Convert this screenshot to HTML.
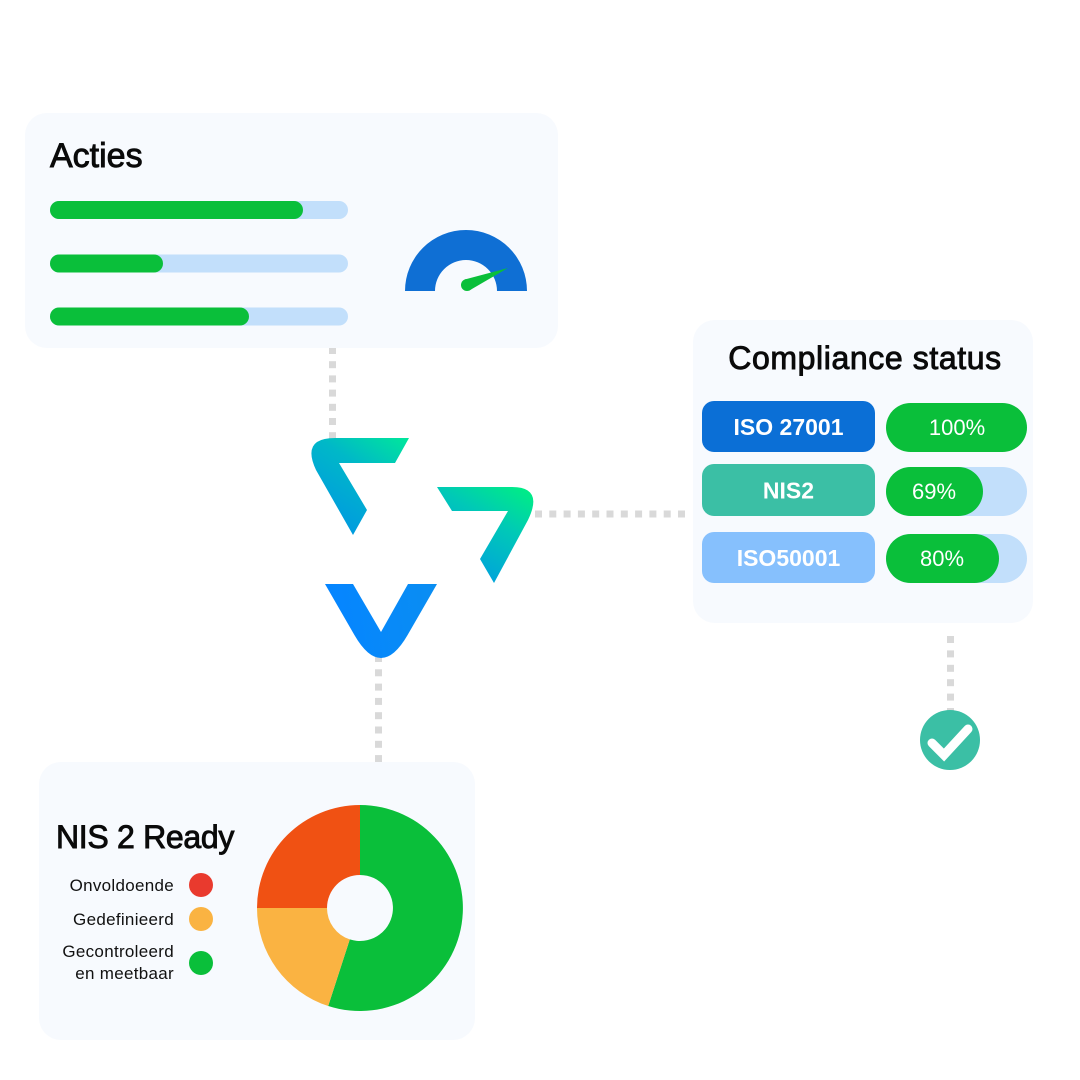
<!DOCTYPE html>
<html>
<head>
<meta charset="utf-8">
<style>
html,body{margin:0;padding:0;background:#ffffff;}
svg{display:block;}
text{font-family:"Liberation Sans",sans-serif;}
</style>
</head>
<body>
<svg width="1080" height="1080" viewBox="0 0 1080 1080" xmlns="http://www.w3.org/2000/svg">
<defs>
  <linearGradient id="gTL" gradientUnits="userSpaceOnUse" x1="340" y1="530" x2="405" y2="435">
    <stop offset="0" stop-color="#009ae0"/>
    <stop offset="0.55" stop-color="#00b8c8"/>
    <stop offset="1" stop-color="#00e89a"/>
  </linearGradient>
  <linearGradient id="gR" gradientUnits="userSpaceOnUse" x1="485" y1="580" x2="540" y2="487">
    <stop offset="0" stop-color="#00a4da"/>
    <stop offset="0.5" stop-color="#00c8b8"/>
    <stop offset="1" stop-color="#00f47c"/>
  </linearGradient>
  <linearGradient id="gV" gradientUnits="userSpaceOnUse" x1="330" y1="600" x2="437" y2="584">
    <stop offset="0" stop-color="#0585ff"/>
    <stop offset="1" stop-color="#0a8ef2"/>
  </linearGradient>
</defs>

<rect x="0" y="0" width="1080" height="1080" fill="#ffffff"/>

<!-- dotted connectors -->
<g fill="#d9d9d9">
  <rect x="329" y="347" width="7" height="7"/>
  <rect x="329" y="361.2" width="7" height="7"/>
  <rect x="329" y="375.4" width="7" height="7"/>
  <rect x="329" y="389.6" width="7" height="7"/>
  <rect x="329" y="403.8" width="7" height="7"/>
  <rect x="329" y="418" width="7" height="7"/>
  <rect x="329" y="432.2" width="7" height="7"/>

  <rect x="535" y="510.5" width="7" height="7"/>
  <rect x="549.3" y="510.5" width="7" height="7"/>
  <rect x="563.6" y="510.5" width="7" height="7"/>
  <rect x="577.9" y="510.5" width="7" height="7"/>
  <rect x="592.2" y="510.5" width="7" height="7"/>
  <rect x="606.5" y="510.5" width="7" height="7"/>
  <rect x="620.8" y="510.5" width="7" height="7"/>
  <rect x="635.1" y="510.5" width="7" height="7"/>
  <rect x="649.4" y="510.5" width="7" height="7"/>
  <rect x="663.7" y="510.5" width="7" height="7"/>
  <rect x="678" y="510.5" width="7" height="7"/>

  <rect x="375" y="655" width="7" height="7"/>
  <rect x="375" y="669.3" width="7" height="7"/>
  <rect x="375" y="683.6" width="7" height="7"/>
  <rect x="375" y="697.9" width="7" height="7"/>
  <rect x="375" y="712.2" width="7" height="7"/>
  <rect x="375" y="726.5" width="7" height="7"/>
  <rect x="375" y="740.8" width="7" height="7"/>
  <rect x="375" y="755.1" width="7" height="7"/>

  <rect x="947" y="636" width="7" height="7"/>
  <rect x="947" y="650.4" width="7" height="7"/>
  <rect x="947" y="664.8" width="7" height="7"/>
  <rect x="947" y="679.2" width="7" height="7"/>
  <rect x="947" y="693.6" width="7" height="7"/>
  <rect x="947" y="708" width="7" height="7"/>
</g>

<!-- Acties card -->
<rect x="25" y="113" width="533" height="235" rx="22" fill="#f7fafe"/>
<text x="50" y="167" font-size="34" fill="#0a0a0a" stroke="#0a0a0a" stroke-width="0.9">Acties</text>
<rect x="50" y="201" width="298" height="18" rx="9" fill="#c2dffb"/>
<rect x="50" y="201" width="253" height="18" rx="9" fill="#0abf3a"/>
<rect x="50" y="254.5" width="298" height="18" rx="9" fill="#c2dffb"/>
<rect x="50" y="254.5" width="113" height="18" rx="9" fill="#0abf3a"/>
<rect x="50" y="307.5" width="298" height="18" rx="9" fill="#c2dffb"/>
<rect x="50" y="307.5" width="199" height="18" rx="9" fill="#0abf3a"/>
<!-- gauge -->
<path d="M 405 291 A 61 61 0 0 1 527 291 L 497 291 A 31 31 0 0 0 435 291 Z" fill="#0f6fd4"/>
<polygon points="469.3,290.5 464.7,279.5 508,268" fill="#0abf3a"/>
<circle cx="467" cy="285" r="6" fill="#0abf3a"/>

<!-- Compliance card -->
<rect x="693" y="320" width="340" height="303" rx="22" fill="#f7fafe"/>
<text x="865" y="369" font-size="32" text-anchor="middle" fill="#0a0a0a" stroke="#0a0a0a" stroke-width="0.9" letter-spacing="0.6">Compliance status</text>

<rect x="702" y="401" width="173" height="51" rx="12" fill="#0b6fd6"/>
<text x="788.5" y="435" font-size="23" font-weight="bold" text-anchor="middle" fill="#ffffff">ISO 27001</text>
<rect x="886" y="403" width="141" height="49" rx="24.5" fill="#0abf3a"/>
<text x="957" y="435" font-size="22" text-anchor="middle" fill="#ffffff">100%</text>

<rect x="702" y="464" width="173" height="52" rx="12" fill="#3bbfa5"/>
<text x="788.5" y="498.5" font-size="23" font-weight="bold" text-anchor="middle" fill="#ffffff">NIS2</text>
<rect x="886" y="467" width="141" height="49" rx="24.5" fill="#c2dffb"/>
<rect x="886" y="467" width="97" height="49" rx="24.5" fill="#0abf3a"/>
<text x="934" y="499" font-size="22" text-anchor="middle" fill="#ffffff">69%</text>

<rect x="702" y="532" width="173" height="51" rx="12" fill="#86c0fd"/>
<text x="788.5" y="566" font-size="23" font-weight="bold" text-anchor="middle" fill="#ffffff">ISO50001</text>
<rect x="886" y="534" width="141" height="49" rx="24.5" fill="#c2dffb"/>
<rect x="886" y="534" width="113" height="49" rx="24.5" fill="#0abf3a"/>
<text x="942" y="566" font-size="22" text-anchor="middle" fill="#ffffff">80%</text>

<!-- check -->
<circle cx="950" cy="740" r="30" fill="#3bbfa5"/>
<polyline points="932,743 944,755 968,729" fill="none" stroke="#ffffff" stroke-width="9" stroke-linecap="round" stroke-linejoin="miter"/>

<!-- NIS 2 Ready card -->
<rect x="39" y="762" width="436" height="278" rx="22" fill="#f7fafe"/>
<text x="56" y="848" font-size="32" fill="#0a0a0a" stroke="#0a0a0a" stroke-width="0.9" letter-spacing="-0.3">NIS 2 Ready</text>
<text x="174" y="891" font-size="17" text-anchor="end" fill="#111111" letter-spacing="0.3">Onvoldoende</text>
<text x="174" y="925" font-size="17" text-anchor="end" fill="#111111" letter-spacing="0.3">Gedefinieerd</text>
<text x="174" y="957" font-size="17" text-anchor="end" fill="#111111" letter-spacing="0.3">Gecontroleerd</text>
<text x="174" y="979" font-size="17" text-anchor="end" fill="#111111" letter-spacing="0.3">en meetbaar</text>
<circle cx="201" cy="885" r="12" fill="#e93a2e"/>
<circle cx="201" cy="919" r="12" fill="#fab342"/>
<circle cx="201" cy="963" r="12" fill="#0abf3a"/>

<!-- donut -->
<path d="M 360 805 A 103 103 0 1 1 328.2 1006 L 349.8 939.4 A 33 33 0 1 0 360 875 Z" fill="#0abf3a"/>
<path d="M 328.2 1006 A 103 103 0 0 1 257 908 L 327 908 A 33 33 0 0 0 349.8 939.4 Z" fill="#fab342"/>
<path d="M 257 908 A 103 103 0 0 1 360 805 L 360 875 A 33 33 0 0 0 327 908 Z" fill="#f05113"/>

<!-- logo -->
<path d="M 409 438 L 335 438 Q 301 438 316 470 L 353 535 L 367 510 L 339 463 L 395 463 Z" fill="url(#gTL)"/>
<path d="M 437 487 L 512 487 Q 544 487 528 520 L 494 583 L 480 559 L 508 511 L 452 511 Z" fill="url(#gR)"/>
<path d="M 325 584 L 353 584 L 381 632 L 408 584 L 437 584 L 407.6 635 Q 381 681 354.4 635 Z" fill="url(#gV)"/>
</svg>
</body>
</html>
